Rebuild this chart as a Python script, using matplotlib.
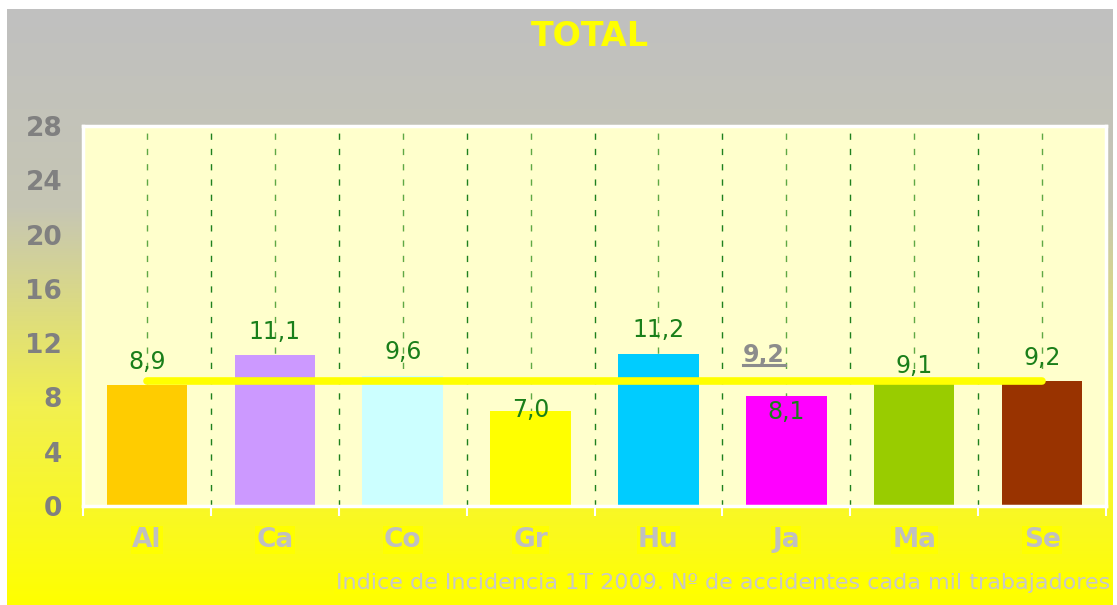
import numpy as np
import matplotlib
matplotlib.use("Agg")
import matplotlib.pyplot as plt
from matplotlib.colors import LinearSegmentedColormap
from matplotlib.lines import Line2D

categories = ["Al", "Ca", "Co", "Gr", "Hu", "Ja", "Ma", "Se"]
values = [8.9, 11.1, 9.6, 7.0, 11.2, 8.1, 9.1, 9.2]
value_labels = ["8,9", "11,1", "9,6", "7,0", "11,2", "8,1", "9,1", "9,2"]
average = 9.2
average_label = "9,2"
yticks = [0, 4, 8, 12, 16, 20, 24, 28]
title = "TOTAL"
footnote = "Indice de Incidencia 1T 2009. Nº de accidentes cada mil trabajadores"

bar_colors = ["#FFCC00", "#CC99FF", "#CCFFFF", "#FFFF00", "#00CCFF", "#FF00FF", "#99CC00", "#993300"]
label_offsets = [16.5, 16.5, 17, 1, 17, -11.5, 12, 17]  # points

W, H = 1117, 605
fig = plt.figure(figsize=(W / 100, H / 100), dpi=100)
fig.patch.set_facecolor("white")

# gradient background panel
bg = fig.add_axes([7 / W, 0, (1113 - 7) / W, (605 - 9) / H])
bg.set_axis_off()
cmap = LinearSegmentedColormap.from_list("g", ["#C0C0C0", "#C6C6B4", "#F2F050", "#FFFF00"], N=256)
grad = np.linspace(0, 1, 256).reshape(-1, 1)
bg.imshow(grad, aspect="auto", cmap=cmap, extent=[0, 1, 0, 1], origin="upper")
bg.set_zorder(-10)

ax = fig.add_axes([83 / W, 1 - 506 / H, (1106 - 83) / W, (506 - 126) / H])
ax.set_facecolor("#FFFFCC")
x = np.arange(len(categories))
ax.set_xlim(-0.5, len(categories) - 0.5)
ax.set_ylim(0, 28)

# dashed vertical gridlines
for xi in x:
    ax.axvline(xi, color="#5FA844", lw=1, ls=(0, (4.5, 6.5)), zorder=1)
for xb in np.arange(0.5, len(categories) - 0.5, 1):
    ax.axvline(xb, color="#1E801E", lw=1, ls=(0, (4.5, 6.5)), zorder=1)

ax.bar(x, values, width=0.63, color=bar_colors, zorder=2)

ax.plot([x[0], x[-1]], [average, average], color="#FFFF00", lw=5.5,
        solid_capstyle="round", zorder=3)

for xi, v, lab, off in zip(x, values, value_labels, label_offsets):
    ax.annotate(lab, (xi, v), xytext=(0, off), textcoords="offset points",
                ha="center", va="center", color="#1A7F1A", fontsize=17, zorder=5)

avg_txt = ax.annotate(average_label, (x[5], average), xytext=(-16, 19),
                      textcoords="offset points", ha="center", va="center",
                      color="#8C8C8C", fontsize=17, fontweight="bold", zorder=5)

for s in ax.spines.values():
    s.set_color("white")
    s.set_linewidth(2.5)

ax.set_yticks(yticks)
ax.set_yticklabels([str(t) for t in yticks], fontsize=19, fontweight="bold", color="#808080")
ax.tick_params(axis="y", length=0, pad=15)

ax.set_xticks(x)
ax.set_xticklabels(categories, fontsize=19, fontweight="bold", color="#C0C0C0")
for t in ax.get_xticklabels():
    t.set_bbox(dict(facecolor="#FFFF00", edgecolor="none", pad=1))
ax.tick_params(axis="x", length=0, pad=15)
ax.set_xticks(np.arange(-0.5, len(categories), 1), minor=True)
ax.tick_params(axis="x", which="minor", length=7, width=1.5, color="white", direction="out")

fig.text(590 / W, 1 - 36 / H, title, ha="center", va="center", color="#FFFF00",
         fontsize=24, fontweight="bold")
fig.text(1110 / W, 1 - 583 / H, footnote, ha="right", va="center", color="#C8C8C8",
         fontsize=16, bbox=dict(facecolor="#FFFF00", edgecolor="none", pad=1))

# underline for the average label
fig.canvas.draw()
bb = avg_txt.get_window_extent()
inv = fig.transFigure.inverted()
(x0, y0), (x1, _) = inv.transform([(bb.x0, bb.y0 + 2), (bb.x1, bb.y0 + 2)])
fig.add_artist(Line2D([x0, x1], [y0, y0], color="#8C8C8C", lw=2.2, zorder=6))

fig.savefig("out.png", dpi=100)
